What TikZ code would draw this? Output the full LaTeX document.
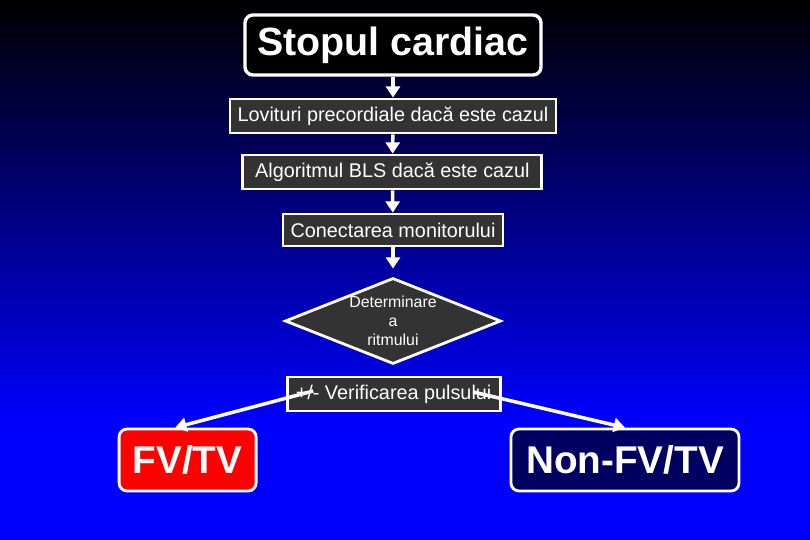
\documentclass[tikz,border=0pt]{standalone}
\usepackage{fontspec}
\setmainfont{Liberation Sans}
\usetikzlibrary{positioning,arrows.meta,calc,shapes.geometric}
\definecolor{rcBox}{RGB}{51,51,51}
\definecolor{rcRed}{RGB}{255,0,0}
\definecolor{rcNavy}{RGB}{0,0,96}
\definecolor{rcBlue}{RGB}{0,0,255}
\tikzset{
    base/.style={align=center, text=white, draw=white},
    title/.style={base, rectangle, rounded corners=2mm, line width=2.4pt, fill=black,
                  font=\fontsize{28}{32}\selectfont\bfseries,
                  minimum width=7.4cm, minimum height=1.5cm},
    stepbox/.style={base, rectangle, line width=2pt, fill=rcBox, inner sep=0pt,
                    font=\fontsize{14.1}{16}\selectfont, minimum height=0.85cm},
    decision/.style={base, diamond, line width=2pt, fill=rcBox, inner sep=0pt, aspect=2.51,
                     font=\fontsize{11.3}{13.5}\selectfont,
                     minimum width=5.4cm, minimum height=2.15cm},
    outcome/.style={base, rectangle, rounded corners=2mm, line width=2pt,
                    font=\fontsize{27.5}{32}\selectfont\bfseries, minimum height=1.55cm},
    flow/.style={-{Triangle[width=10pt,length=8pt]}, line width=2.5pt, color=white}
}
\begin{document}
\begin{tikzpicture}
  % background
  \useasboundingbox (0,0) rectangle (20.25,-13.5);
  \fill[rcBlue] (0,0) rectangle (20.25,-13.5);
  \shade[top color=black, bottom color=rcBlue] (0,0) rectangle (20.25,-10.6);

  % main column
  \node[title] (stop) at (9.825,-1.125) {Stopul cardiac};
  \node[stepbox, minimum width=8.15cm] (lovit) at (9.825,-2.9) {Lovituri precordiale dacă este cazul};
  \node[stepbox, minimum width=7.475cm] (bls) at (9.81,-4.3) {Algoritmul BLS dacă este cazul};
  \node[stepbox, minimum width=5.5cm, minimum height=0.8cm] (monit) at (9.825,-5.75) {Conectarea monitorului};
  \node[decision] (ritm) at (9.825,-8.025) {Determinare\\a\\ritmului};
  \node[stepbox, minimum width=5.325cm] (puls) at (9.84,-9.85) {+/- Verificarea pulsului};

  % outcomes
  \node[outcome, fill=rcRed, minimum width=3.425cm] (fvtv) at (4.69,-11.5) {FV/TV};
  \node[outcome, fill=rcNavy, minimum width=5.7cm] (nonfv) at (15.625,-11.5) {Non-FV/TV};

  \draw[flow] (stop) -- (lovit);
  \draw[flow] (lovit) -- (bls);
  \draw[flow] (bls) -- (monit);
  \draw[flow, shorten >=0.2cm] (monit) -- (ritm);

  \coordinate (pl) at ($(puls.center)+(-2.01,0.075)$);
  \coordinate (pr) at ($(puls.center)+(1.99,0.05)$);
  \draw[flow] (pl) -- ([xshift=-0.31cm]fvtv.north);
  \draw[flow] (pr) -- (nonfv.north);
\end{tikzpicture}
\end{document}
